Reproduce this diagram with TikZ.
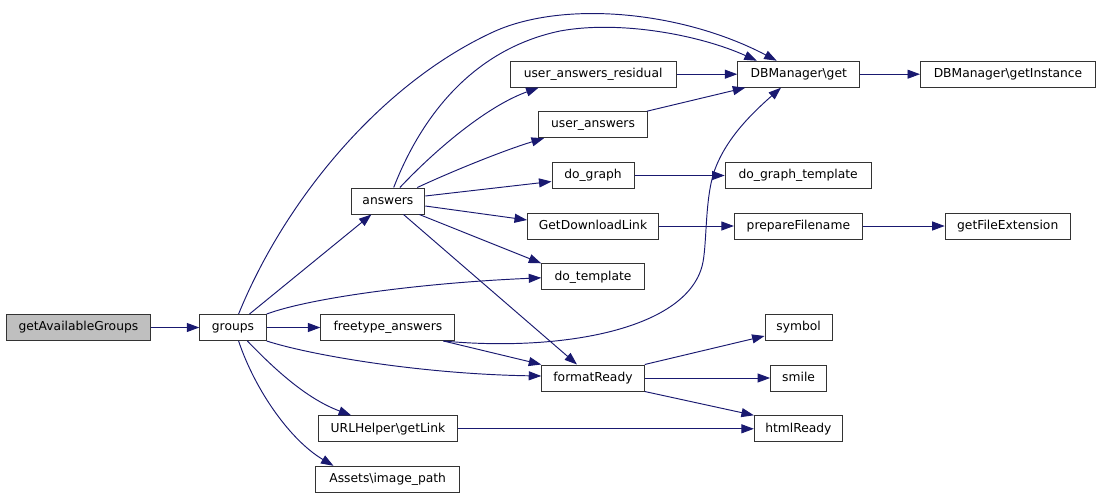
\documentclass[tikz,border=0pt]{standalone}
\usepackage{fontspec}
\setmainfont{DejaVu Sans}
\usetikzlibrary{arrows.meta,calc}
\definecolor{edgec}{HTML}{191970}
\definecolor{gfill}{HTML}{BFBFBF}
\begin{document}
\begin{tikzpicture}[x=1pt,y=-1pt,
 fn/.style={draw=black!80, line width=1pt, fill=white, minimum height=26pt, inner sep=0pt,
   text height=9pt, text depth=2.6pt, font=\fontsize{12.3}{14}\selectfont},
 call/.style={draw=edgec, line width=0.95pt, -{Triangle[length=12.5pt,width=9pt]}}]
\useasboundingbox (0,0) rectangle (1101,498);
\node[fn, fill=gfill, minimum width=144.6pt] (gag) at (78.4,327.5) {getAvailableGroups};
\node[fn, minimum width=66.4pt] (groups) at (233,327.5) {groups};
\node[fn, minimum width=73.8pt] (answers) at (387.9,201) {answers};
\node[fn, minimum width=134pt] (fta) at (387.9,327.5) {freetype\_answers};
\node[fn, minimum width=138.7pt] (url) at (388,428.8) {URLHelper\textbackslash getLink};
\node[fn, minimum width=144.4pt] (assets) at (387.7,479.3) {Assets\textbackslash image\_path};
\node[fn, minimum width=166pt] (uar) at (593.1,74.2) {user\_answers\_residual};
\node[fn, minimum width=109pt] (ua) at (593,124.7) {user\_answers};
\node[fn, minimum width=82pt] (dg) at (593,175.5) {do\_graph};
\node[fn, minimum width=131pt] (gdl) at (593,226) {GetDownloadLink};
\node[fn, minimum width=102.5pt] (dt) at (593,276.8) {do\_template};
\node[fn, minimum width=102.5pt] (fr) at (593,378) {formatReady};
\node[fn, minimum width=122pt] (dbget) at (798.8,74.2) {DBManager\textbackslash get};
\node[fn, minimum width=146pt] (dgt) at (798.2,175.5) {do\_graph\_template};
\node[fn, minimum width=128pt] (pf) at (798.4,226) {prepareFilename};
\node[fn, minimum width=67pt] (sym) at (798.6,327.5) {symbol};
\node[fn, minimum width=56pt] (smile) at (798.6,378) {smile};
\node[fn, minimum width=88pt] (html) at (798.4,428.8) {htmlReady};
\node[fn, minimum width=175pt] (dbi) at (1008,74.2) {DBManager\textbackslash getInstance};
\node[fn, minimum width=125pt] (gfe) at (1007.7,226) {getFileExtension};

\draw[call] (gag) -- (groups);
\draw[call] (groups) -- (answers);
\draw[call] ([xshift=5.6pt]groups.north) .. controls (285,200) and (380,85) .. (491,33) .. controls (560,0) and (680,10) .. ([xshift=39.4pt]dbget.north west);
\draw[call] ([xshift=5.8pt]answers.north) .. controls (420,120) and (470,50) .. (560,31) .. controls (620,20) and (700,35) .. ([xshift=19.5pt]dbget.north west);
\draw[call] ([xshift=12pt]answers.north) .. controls (440,145) and (490,105) .. ([xshift=29pt]uar.south west);
\draw[call] ([xshift=-8pt]answers.north east) .. controls (455,170) and (505,150) .. ([xshift=6pt]ua.south west);
\draw[call] ([yshift=5pt]answers.east) -- ([yshift=-6pt]dg.west);
\draw[call] ([yshift=-5pt]answers.east) -- ([yshift=6pt]gdl.west);
\draw[call] ([xshift=-6pt]answers.south east) -- (dt.north west);
\draw[call] ([xshift=15.6pt]answers.south) -- ([xshift=-16pt]fr.north);
\draw[call] (groups.north east) .. controls (310,298) and (420,283) .. ([yshift=-1pt]dt.west);
\draw[call] (groups) -- (fta);
\draw[call] (groups.south east) .. controls (310,355) and (420,374) .. ([yshift=2pt]fr.west);
\draw[call] ([xshift=-12pt]fta.south east) -- (fr.north west);
\draw[call] ([xshift=-12pt]fta.south east) .. controls (560,352) and (690,330) .. (703,262) .. controls (707,240) and (705,200) .. (714,172) .. controls (725,140) and (750,115) .. ([xshift=43.7pt]dbget.south west);
\draw[call] (uar) -- (dbget);
\draw[call] ([xshift=-1pt]ua.north east) -- ([xshift=8pt]dbget.south west);
\draw[call] (dbget) -- (dbi);
\draw[call] (dg) -- (dgt);
\draw[call] (gdl) -- (pf);
\draw[call] (pf) -- (gfe);
\draw[call] (fr.north east) -- ([yshift=5pt]sym.south west);
\draw[call] (fr) -- (smile);
\draw[call] (fr.south east) -- (html.north west);
\draw[call] (url) -- (html);
\draw[call] ([xshift=14.4pt]groups.south) .. controls (280,375) and (310,400) .. ([xshift=33pt]url.north west);
\draw[call] ([xshift=5.6pt]groups.south) .. controls (255,390) and (290,440) .. ([xshift=18.5pt]assets.north west);
\end{tikzpicture}
\end{document}
